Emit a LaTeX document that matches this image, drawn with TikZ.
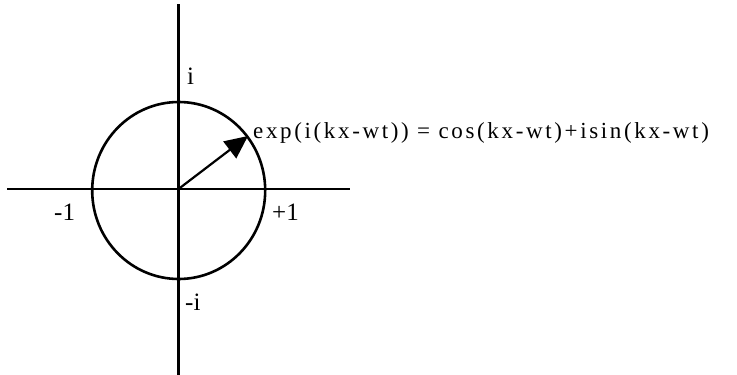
\documentclass[tikz,border=0pt]{standalone}
\usepackage{fontspec}
\setmainfont{Liberation Serif}
\newfontfamily\eqfont[LetterSpace=11.5]{Liberation Serif}
\usetikzlibrary{arrows.meta}
\begin{document}
\begin{tikzpicture}[x=1pt,y=-1pt,
  axis/.style={line width=2.2pt},
  unitcircle/.style={line width=2.6pt},
  vec/.style={line width=2.2pt,-{Triangle[length=23pt,width=21pt]}},
  lbl/.style={inner sep=0pt,anchor=base west,font=\fontsize{25}{29}\selectfont},
  eqlbl/.style={inner sep=0pt,anchor=base west,font=\eqfont\fontsize{23}{27}\selectfont}]
\useasboundingbox (0,0) rectangle (737,375);
\coordinate (O) at (178.5,189);
\coordinate (C) at (178.7,190.5);
\coordinate (P) at (248,136);
\coordinate (xl) at (7,189);
\coordinate (xr) at (350,189);
\coordinate (yt) at (178.5,4);
\coordinate (yb) at (178.5,375);
\draw[axis] (xl) -- (xr);
\draw[axis] (yt) -- (yb);
\draw[unitcircle] (C) ellipse [x radius=86.5, y radius=88.5];
\draw[vec] (O) -- (P);
\node[lbl] (li) at (187,84) {i};
\node[lbl] (lp) at (272,220) {+1};
\node[lbl] (lm) at (54,220) {-1};
\node[lbl] (lmi) at (185,310) {-i};
\node[eqlbl] (eq) at (253,138) {exp(i(kx-wt)) = cos(kx-wt)+isin(kx-wt)};
\end{tikzpicture}
\end{document}
